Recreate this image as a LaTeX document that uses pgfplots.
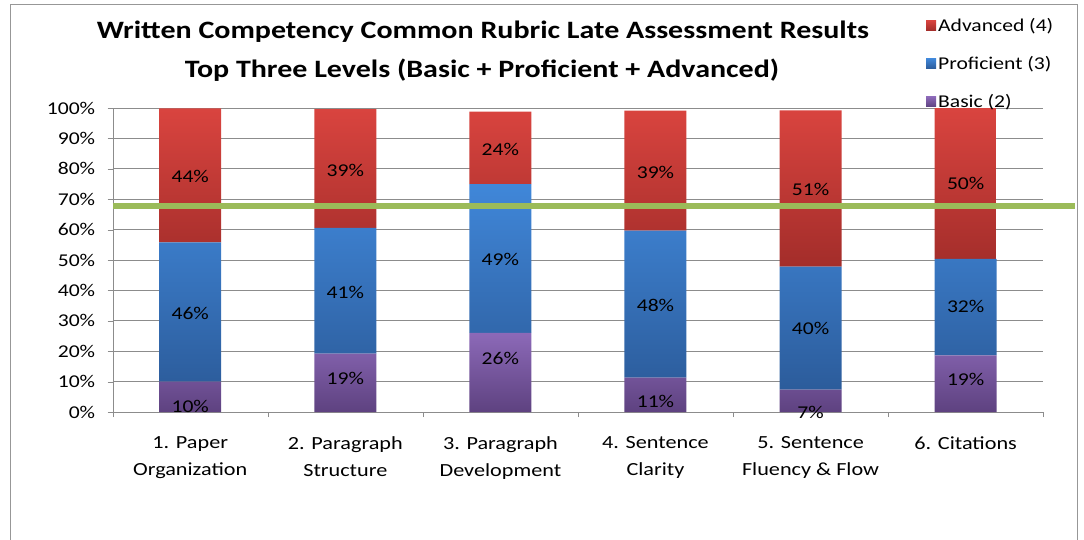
\documentclass[border=0pt]{standalone}
\usepackage{pgfplots}
\pgfplotsset{compat=1.18}
\usepackage{fontspec}
\setmainfont{Carlito}[FakeStretch=1.2]
\definecolor{advTop}{HTML}{D9443F}
\definecolor{advBot}{HTML}{A32D2A}
\definecolor{proTop}{HTML}{4087D9}
\definecolor{proBot}{HTML}{2C5C9B}
\definecolor{basTop}{HTML}{8C69B8}
\definecolor{basBot}{HTML}{5E4280}
\definecolor{gridgray}{HTML}{8C8C8C}
\definecolor{goal}{HTML}{9BBB59}
\pgfplotstableread{
x  bas  pro  adv
0  10.0 45.8 44.1
1  19.2 41.4 39.0
2  26.0 49.0 23.8
3  11.3 48.4 39.4
4  7.4  40.4 51.4
5  18.6 31.8 49.6
}\results
\pgfplotstableread{
x  y    lab
0  1.7  10
1  10.9 19
2  17.7 26
3  3.4  11
4  -0.3 7
5  10.8 19
0  32.3 46
1  39.2 41
2  50.2 49
3  35.0 48
4  27.4 40
5  34.6 32
0  77.6 44
1  79.5 39
2  86.4 24
3  78.7 39
4  73.2 51
5  75.1 50
}\labels
\begin{document}
\begin{tikzpicture}
\useasboundingbox (0pt,0pt) rectangle (1084pt,539pt);
\draw[gridgray!90, line width=1pt] (10pt,-10pt) -- (10pt,534pt) -- (1077pt,534pt) -- (1077pt,-10pt);
\node[font=\fontsize{25}{30}\selectfont\bfseries] at (483pt,507pt) {Written Competency Common Rubric Late Assessment Results};
\node[font=\fontsize{25}{30}\selectfont\bfseries] at (482pt,469pt) {Top Three Levels (Basic + Proficient + Advanced)};
\begin{axis}[
  at={(112.7pt,127pt)}, anchor=south west,
  scale only axis, width=930.5pt, height=304pt,
  ybar stacked, bar width=62pt,
  xmin=-0.5, xmax=5.5, ymin=0, ymax=100,
  /pgf/number format/assume math mode=true,
  axis x line*=bottom, axis y line*=left,
  axis line style={gridgray},
  ymajorgrids, grid style={gridgray, line width=0.8pt},
  ytick={0,10,...,100},
  yticklabel={\pgfmathprintnumber{\tick}\%},
  yticklabel style={font=\fontsize{18}{20}\selectfont, xshift=-9pt},
  tick align=outside, major tick length=5pt,
  tick style={gridgray},
  xtick={-0.5,0.5,...,5.5}, xticklabels={},
  extra x ticks={0,1,2,3,4,5},
  extra x tick labels={{1. Paper\\Organization},{2. Paragraph\\Structure},{3. Paragraph\\Development},{4. Sentence\\Clarity},{5. Sentence\\Fluency \& Flow},{6. Citations}},
  extra x tick style={grid=none, major tick length=0pt, tick label style={align=center, font=\fontsize{18.5}{27}\selectfont, yshift=-21pt}},
  legend style={at={(0.874,1.303)}, anchor=north west, draw=none, fill=none, font=\fontsize{18}{20}\selectfont, row sep=19.5pt, inner sep=0pt},
  legend cell align=left,
  reverse legend,
  legend image code/.code={\path[#1, draw=none] (0pt,-5pt) rectangle (10pt,5pt);},
]
\addplot[draw=none, top color=basTop, bottom color=basBot] table[x=x, y=bas] {\results};
\addlegendentry{Basic (2)}
\addplot[draw=none, top color=proTop, bottom color=proBot] table[x=x, y=pro] {\results};
\addlegendentry{Proficient (3)}
\addplot[draw=none, top color=advTop, bottom color=advBot] table[x=x, y=adv] {\results};
\addlegendentry{Advanced (4)}
\end{axis}
\begin{axis}[
  at={(112.7pt,127pt)}, anchor=south west,
  scale only axis, width=930.5pt, height=304pt,
  xmin=-0.5, xmax=5.5, ymin=0, ymax=100,
  hide axis, clip=false,
]
\addplot[only marks, mark=*, mark size=0pt, mark options={draw=none, fill=none},
  point meta=explicit symbolic,
  nodes near coords={\pgfplotspointmeta\%},
  nodes near coords align={center},
  every node near coord/.append style={font=\fontsize{18}{20}\selectfont, text=black, inner sep=0pt}]
  table[x=x, y=y, meta=lab] {\labels};
\addplot[goal, line width=6pt] coordinates {(-0.5,67.8) (5.706,67.8)};
\end{axis}
\end{tikzpicture}
\end{document}
